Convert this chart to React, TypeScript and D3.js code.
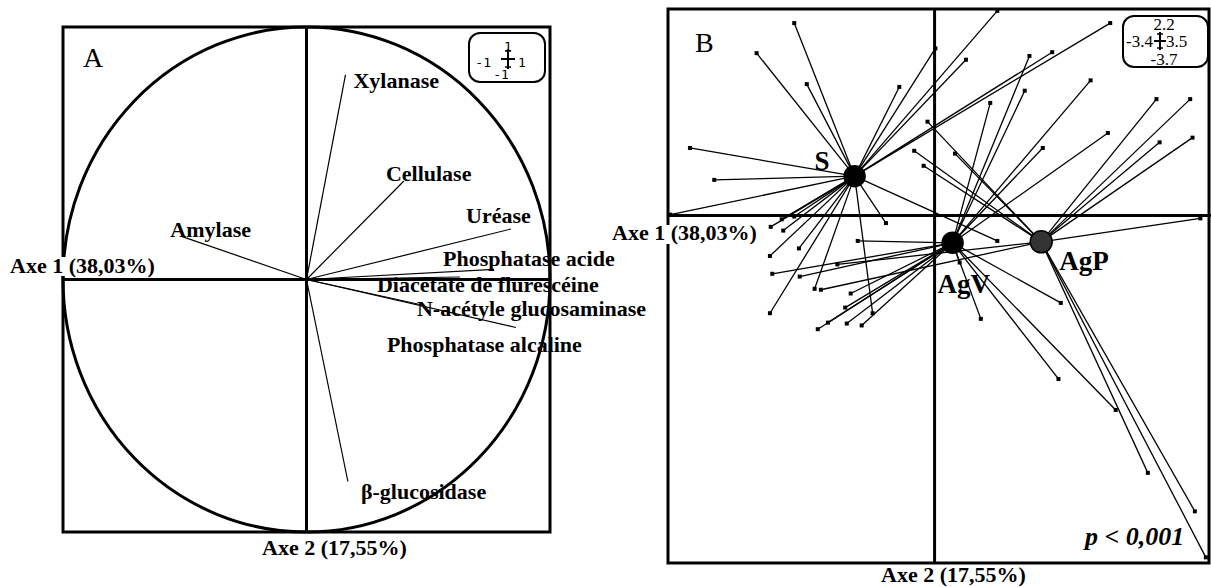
import React from "react";
import * as d3 from "d3";

// ---- Panel A: correlation circle of enzyme activities ----
const enzymeNames = [
  "Xylanase",
  "Cellulase",
  "Uréase",
  "Phosphatase acide",
  "Diacétate de flurescéine",
  "N-acétyle glucosaminase",
  "Phosphatase alcaline",
  "Amylase",
  "β-glucosidase",
];
const enzymeAxis1 = [0.16, 0.4, 0.84, 0.77, 0.63, 0.47, 0.86, -0.51, 0.17];
const enzymeAxis2 = [0.81, 0.39, 0.2, 0.04, 0.01, -0.1, -0.19, 0.17, -0.8];

const axisTitles = ["Axe 1 (38,03%)", "Axe 2 (17,55%)"];
const axisRangeA = [-1, 1];

// ---- Panel B: sample scores grouped by land use ----
const groupNames = ["S", "AgV", "AgP"];
const groupAxis1 = [-1.02, 0.23, 1.36];
const groupAxis2 = [0.42, -0.29, -0.28];

const samplesS: [number, number][] = [
  [-1.79, 2.05], [-2.27, 1.73], [-1.63, 1.4], [-0.45, 1.37], [-3.12, 0.72],
  [-2.81, 0.38], [-3.37, 0.01], [-2.09, -0.12], [-1.93, -0.16], [-1.73, -0.35],
  [-2.1, -0.43], [-1.53, -0.78], [-2.1, -1.04], [-0.79, -1.04], [-1.95, -0.04],
  [-1.79, -0.01], [-0.62, -0.08], [0.8, -0.27], [0.01, 1.78], [0.4, 1.66],
  [0.8, 2.18], [1.5, 1.74], [2.24, 2.05],
];
const samplesAgV: [number, number][] = [
  [-2.07, -0.62], [-1.72, -0.65], [-1.07, -0.83], [-0.98, -0.27], [-1.49, -1.21],
  [-1.36, -1.14], [-1.12, -1.15], [-0.93, -1.17], [-1.14, -0.98], [0.59, -1.1],
  [0.32, -0.5], [1.61, -0.93], [1.58, -1.74], [2.31, -2.07], [1.21, 1.7],
  [1.15, 1.33], [0.71, 1.2], [1.99, 1.44], [1.38, 0.72], [2.21, 0.88],
];
const samplesAgP: [number, number][] = [
  [-0.09, 1.0], [-0.26, 0.69], [-0.14, 0.53], [0.26, 0.66], [2.83, 1.24],
  [3.26, 1.24], [2.87, 0.78], [3.29, 0.83], [3.39, -0.03], [2.72, -2.74],
  [3.32, -3.15], [3.46, -3.64], [-1.45, -0.79], [-1.24, -0.52],
];
const groupSamples = [samplesS, samplesAgV, samplesAgP];

const axis1RangeB = [-3.4, 3.5];
const axis2RangeB = [-3.7, 2.2];
const pValueText = "p < 0,001";

// label placement relative to arrow tips (px)
const enzymeLabelShift: Record<string, [number, number]> = {
  Xylanase: [8, 13],
  Cellulase: [-18, 0],
  "Uréase": [-45, -6],
  "Phosphatase acide": [-51, -3],
  "Diacétate de flurescéine": [-83, 15],
  "N-acétyle glucosaminase": [-4, 11],
  "Phosphatase alcaline": [-129, 25],
  Amylase: [-12, 0],
  "β-glucosidase": [13, 17],
};
const groupLabelShift: [number, number][] = [
  [-40, -6],
  [-15, 50],
  [18, 28],
];

const serif = "'Liberation Serif', 'Times New Roman', serif";
const mono = "'DejaVu Sans Mono', monospace";
const labelSize = 22;

// small rounded box showing the axis extents around a cross
function ScaleBox({ box, cx, cy, arm, labels, pos, font, size }: any) {
  return (
    <g>
      <rect x={box[0]} y={box[1]} width={box[2]} height={box[3]} rx={11} ry={11} fill="white" stroke="black" strokeWidth={2} />
      <line x1={cx} x2={cx} y1={cy - arm[1]} y2={cy + arm[1]} stroke="black" strokeWidth={2} />
      <line x1={cx - arm[0]} x2={cx + arm[0]} y1={cy} y2={cy} stroke="black" strokeWidth={2} />
      <line x1={cx - 3} x2={cx + 3} y1={cy - arm[1] + 2} y2={cy - arm[1] + 2} stroke="black" strokeWidth={1.5} />
      <line x1={cx - 3} x2={cx + 3} y1={cy + arm[1] - 2} y2={cy + arm[1] - 2} stroke="black" strokeWidth={1.5} />
      {labels.map((t: string, i: number) => (
        <text key={i} x={pos[i][0]} y={pos[i][1]} textAnchor={pos[i][2]} fontFamily={font} fontSize={size}>
          {t}
        </text>
      ))}
    </g>
  );
}

function PanelA() {
  const x = d3.scaleLinear().domain(axisRangeA).range([63, 550]);
  const y = d3.scaleLinear().domain(axisRangeA).range([532, 27]);
  const x0 = x(0);
  const y0 = y(0);
  const [lo, hi] = axisRangeA;
  return (
    <g>
      <rect x={x(lo)} y={y(hi)} width={x(hi) - x(lo)} height={y(lo) - y(hi)} fill="none" stroke="black" strokeWidth={3} />
      <ellipse cx={x0} cy={y0} rx={x(1) - x0} ry={y(-1) - y0} fill="none" stroke="black" strokeWidth={3} />
      <line x1={x(lo)} x2={x(hi)} y1={y0} y2={y0} stroke="black" strokeWidth={3} />
      <line x1={x0} x2={x0} y1={y(hi)} y2={y(lo)} stroke="black" strokeWidth={3} />
      {enzymeNames.map((n, i) => (
        <line key={n} x1={x0} y1={y0} x2={x(enzymeAxis1[i])} y2={y(enzymeAxis2[i])} stroke="black" strokeWidth={1.2} />
      ))}
      {enzymeNames.map((n, i) => {
        const [dx, dy] = enzymeLabelShift[n];
        return (
          <text key={n} x={x(enzymeAxis1[i]) + dx} y={y(enzymeAxis2[i]) + dy} fontFamily={serif} fontWeight="bold" fontSize={labelSize}>
            {n}
          </text>
        );
      })}
      <rect x={9} y={257} width={152} height={19} fill="white" />
      <text x={10} y={273} fontFamily={serif} fontWeight="bold" fontSize={labelSize}>{axisTitles[0]}</text>
      <text x={262} y={555} fontFamily={serif} fontWeight="bold" fontSize={labelSize}>{axisTitles[1]}</text>
      <text x={83} y={67} fontFamily={serif} fontSize={28}>A</text>
      <ScaleBox
        box={[469, 33, 76, 49]}
        cx={508}
        cy={59}
        arm={[7, 10]}
        labels={[String(hi), String(lo), String(hi), String(lo)]}
        pos={[[508, 51, "middle"], [491, 67, "end"], [518, 67, "start"], [501, 79, "middle"]]}
        font={mono}
        size={13}
      />
    </g>
  );
}

function PanelB() {
  const x = d3.scaleLinear().domain(axis1RangeB).range([668, 1209]);
  const y = d3.scaleLinear().domain(axis2RangeB).range([563, 9]);
  const x0 = x(0);
  const y0 = y(0);
  const [xl, xh] = axis1RangeB;
  const [yl, yh] = axis2RangeB;
  return (
    <g>
      <rect x={x(xl)} y={y(yh)} width={x(xh) - x(xl)} height={y(yl) - y(yh)} fill="none" stroke="black" strokeWidth={3} />
      <line x1={x(xl)} x2={1211} y1={y0} y2={y0} stroke="black" strokeWidth={3} />
      <line x1={x0} x2={x0} y1={y(yh)} y2={y(yl)} stroke="black" strokeWidth={3} />
      {groupSamples.map((pts, g) =>
        pts.map((p, i) => (
          <line key={`l${g}-${i}`} x1={x(groupAxis1[g])} y1={y(groupAxis2[g])} x2={x(p[0])} y2={y(p[1])} stroke="black" strokeWidth={1.3} />
        ))
      )}
      {groupSamples.map((pts, g) =>
        pts.map((p, i) => (
          <rect key={`m${g}-${i}`} x={x(p[0]) - 2} y={y(p[1]) - 2} width={4} height={4} fill="black" />
        ))
      )}
      {groupNames.map((n, g) => (
        <circle key={n} cx={x(groupAxis1[g])} cy={y(groupAxis2[g])} r={g === 2 ? 11 : 10.5} fill={g === 2 ? "#333" : "black"} stroke="black" strokeWidth={1.5} />
      ))}
      {groupNames.map((n, g) => (
        <text key={n} x={x(groupAxis1[g]) + groupLabelShift[g][0]} y={y(groupAxis2[g]) + groupLabelShift[g][1]} fontFamily={serif} fontWeight="bold" fontSize={27}>
          {n}
        </text>
      ))}
      <rect x={611} y={225} width={152} height={19} fill="white" />
      <text x={612} y={240} fontFamily={serif} fontWeight="bold" fontSize={labelSize}>{axisTitles[0]}</text>
      <text x={881} y={582} fontFamily={serif} fontWeight="bold" fontSize={labelSize}>{axisTitles[1]}</text>
      <text x={695} y={52} fontFamily={serif} fontSize={28}>B</text>
      <text x={1085} y={545} fontFamily={serif} fontWeight="bold" fontStyle="italic" fontSize={26}>{pValueText}</text>
      <ScaleBox
        box={[1123, 16, 85, 51]}
        cx={1160}
        cy={41}
        arm={[6, 9]}
        labels={[String(yh), String(xl), String(xh), String(yl)]}
        pos={[[1164, 30, "middle"], [1153, 47, "end"], [1166, 47, "start"], [1164, 65, "middle"]]}
        font={serif}
        size={17}
      />
    </g>
  );
}

export default function App() {
  return (
    <svg width={1211} height={587} style={{ position: "absolute", left: 0, top: 0, background: "white" }}>
      <rect width={1211} height={587} fill="white" />
      <PanelA />
      <PanelB />
    </svg>
  );
}
